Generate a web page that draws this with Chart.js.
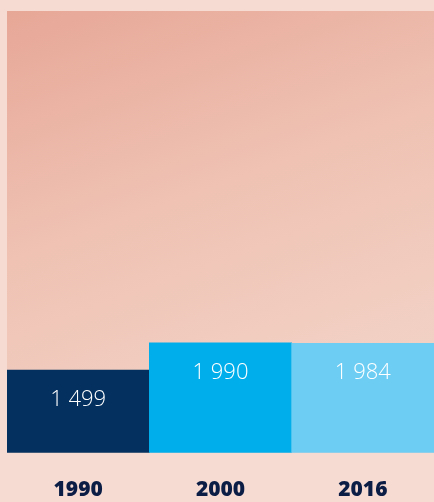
<!DOCTYPE html>
<html>
<head>
<meta charset="utf-8">
<script src="https://cdn.jsdelivr.net/npm/chart.js@4"></script>
<style>
html,body{margin:0;padding:0;background:#f5dbd2;}
#wrap{width:434px;height:502px;position:relative;}
</style>
</head>
<body>
<div id="wrap"><canvas id="c" width="434" height="502"></canvas></div>
<script>
const categories = ["1990", "2000", "2016"];
const values = [1499, 1990, 1984];
const valueLabels = ["1 499", "1 990", "1 984"];
const barColors = ["#03305f", "#00aeeb", "#6dcdf3"];

const panelPlugin = {
  id: 'panel',
  beforeDatasetsDraw(chart) {
    const {ctx, chartArea: a} = chart;
    const g = ctx.createLinearGradient(a.left, a.top, a.left + 160, a.bottom);
    g.addColorStop(0, '#e7a797');
    g.addColorStop(0.5, '#efc2b3');
    g.addColorStop(1, '#f2d2c6');
    ctx.save();
    ctx.fillStyle = g;
    ctx.fillRect(a.left, a.top, a.right - a.left, a.bottom - a.top);
    ctx.restore();
  }
};

const labelPlugin = {
  id: 'vlabels',
  afterDatasetsDraw(chart) {
    const {ctx} = chart;
    const meta = chart.getDatasetMeta(0);
    ctx.save();
    ctx.fillStyle = '#ffffff';
    ctx.font = '300 22px "Open Sans", sans-serif';
    ctx.textAlign = 'center';
    ctx.textBaseline = 'middle';
    meta.data.forEach((bar, i) => {
      ctx.fillText(valueLabels[i], bar.x, bar.y + 30);
    });
    ctx.restore();
  }
};

new Chart(document.getElementById('c'), {
  type: 'bar',
  data: {
    labels: categories,
    datasets: [{
      data: values,
      backgroundColor: barColors,
      borderWidth: 0,
      barPercentage: 1,
      categoryPercentage: 1
    }]
  },
  options: {
    responsive: false,
    animation: false,
    layout: {padding: {left: 7, top: 11, right: 0, bottom: -26}},
    plugins: {legend: {display: false}, tooltip: {enabled: false}},
    scales: {
      x: {
        grid: {display: false, drawTicks: false},
        border: {display: false},
        ticks: {
          color: '#0b1d45',
          font: {family: '"Open Sans", sans-serif', size: 21, weight: 800},
          padding: 25
        }
      },
      y: {
        display: false,
        min: 0,
        max: 8000
      }
    }
  },
  plugins: [panelPlugin, labelPlugin]
});
</script>
</body>
</html>
